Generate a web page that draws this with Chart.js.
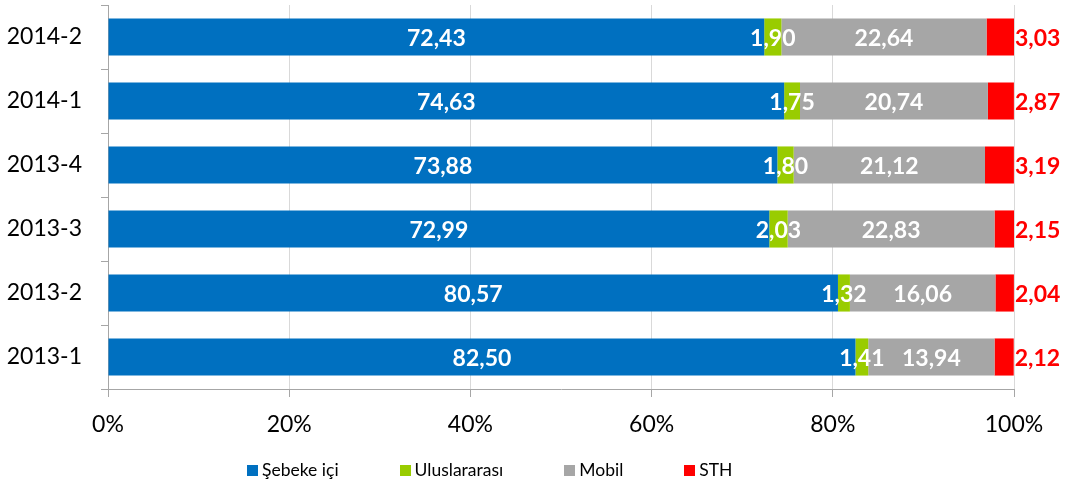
<!DOCTYPE html>
<html>
<head>
<meta charset="utf-8">
<script src="https://cdn.jsdelivr.net/npm/chart.js@4.4.1/dist/chart.umd.min.js"></script>
<style>
  body { margin: 0; background: #fff; }
  #wrap { position: relative; width: 1072px; height: 490px; }
  #legend { position: absolute; left: 247px; top: 460px; display: flex; align-items: center;
            font: 17.5px Lato, sans-serif; color: #000; line-height: 20px; }
  #legend .item { display: flex; align-items: center; margin-right: 61px; }
  #legend .box { width: 11px; height: 11px; margin-right: 4px; }
</style>
</head>
<body>
<div id="wrap">
  <canvas id="chart" width="1072" height="490"></canvas>
  <div id="legend"></div>
</div>
<script>
const periods = ['2014-2', '2014-1', '2013-4', '2013-3', '2013-2', '2013-1'];
const sebekeIci = [72.43, 74.63, 73.88, 72.99, 80.57, 82.50];
const uluslararasi = [1.90, 1.75, 1.80, 2.03, 1.32, 1.41];
const mobil = [22.64, 20.74, 21.12, 22.83, 16.06, 13.94];
const sth = [3.03, 2.87, 3.19, 2.15, 2.04, 2.12];
const seriesNames = ['Şebeke içi', 'Uluslararası', 'Mobil', 'STH'];
const seriesColors = ['#0070C0', '#99CC00', '#A6A6A6', '#FF0000'];
const percentTicks = [0, 20, 40, 60, 80, 100];

Chart.defaults.font.family = 'Lato, sans-serif';
Chart.defaults.color = '#000';

// value labels: white inside the segments, red after the STH segment
const valueLabels = {
  id: 'valueLabels',
  afterDatasetsDraw(chart) {
    const ctx = chart.ctx;
    ctx.save();
    ctx.font = 'bold 23px Lato, sans-serif';
    ctx.textBaseline = 'middle';
    chart.data.datasets.forEach((ds, i) => {
      chart.getDatasetMeta(i).data.forEach((bar, j) => {
        const txt = ds.data[j].toFixed(2).replace('.', ',');
        if (i === 3) {
          ctx.fillStyle = '#FF0000';
          ctx.textAlign = 'left';
          ctx.fillText(txt, bar.x + 1, bar.y + 2);
        } else {
          ctx.fillStyle = '#FFFFFF';
          ctx.textAlign = 'center';
          ctx.fillText(txt, (bar.x + bar.base) / 2, bar.y + 2);
        }
      });
    });
    ctx.restore();
  }
};

const allSeries = [sebekeIci, uluslararasi, mobil, sth];

new Chart(document.getElementById('chart'), {
  type: 'bar',
  data: {
    labels: periods,
    datasets: allSeries.map((values, i) => ({
      label: seriesNames[i],
      data: values,
      backgroundColor: seriesColors[i],
      barPercentage: 0.58,
      categoryPercentage: 1.0,
    })),
  },
  options: {
    indexAxis: 'y',
    responsive: false,
    animation: false,
    layout: { padding: { top: 5, right: 58, bottom: 41, left: 0 } },
    plugins: {
      legend: { display: false },
      tooltip: { enabled: false },
    },
    scales: {
      x: {
        stacked: true,
        min: 0,
        max: 100,
        afterBuildTicks: (axis) => { axis.ticks = percentTicks.map(v => ({ value: v })); },
        ticks: {
          font: { size: 23 },
          padding: 14,
          callback: (v) => v + '%',
        },
        grid: { color: '#D9D9D9', tickColor: '#A6A6A6', tickLength: 8 },
        border: { color: '#A6A6A6' },
        afterFit: (axis) => { axis.height = 60; },
      },
      y: {
        stacked: true,
        ticks: { font: { size: 23 }, padding: 19 },
        grid: { offset: true, drawOnChartArea: false, tickColor: '#A6A6A6', tickLength: 7 },
        border: { color: '#A6A6A6' },
        afterFit: (axis) => {
          axis.width = 108;
          axis.paddingTop = 0;
          axis.paddingBottom = 0;
        },
      },
    },
  },
  plugins: [valueLabels],
});

// legend built from the series names and colours
const legend = document.getElementById('legend');
seriesNames.forEach((name, i) => {
  const item = document.createElement('div');
  item.className = 'item';
  const box = document.createElement('span');
  box.className = 'box';
  box.style.background = seriesColors[i];
  const text = document.createElement('span');
  text.textContent = name;
  item.appendChild(box);
  item.appendChild(text);
  legend.appendChild(item);
});
</script>
</body>
</html>
